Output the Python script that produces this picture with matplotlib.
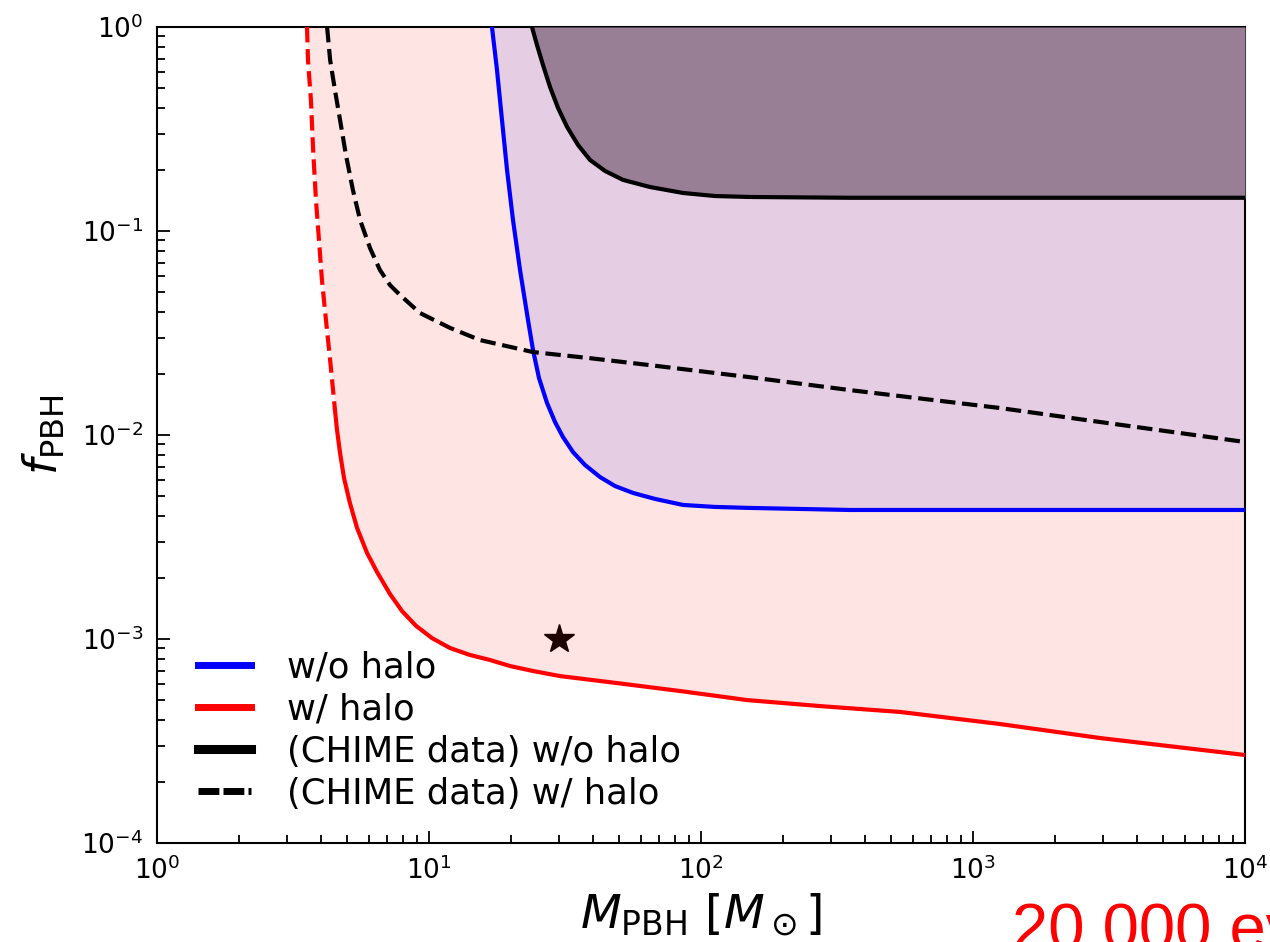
import numpy as np
import matplotlib
matplotlib.use("Agg")
import matplotlib.pyplot as plt
from matplotlib.lines import Line2D

# constraint curves, f_PBH vs M_PBH [M_sun]
# w/ halo, dashed part (upper branch)
m_halo_dash = [3.56, 3.59, 3.68, 3.75, 3.84, 3.94, 4.04, 4.18, 4.33, 4.51]
f_halo_dash = [1.0, 0.689, 0.439, 0.249, 0.142, 0.0903, 0.0575, 0.0366, 0.0233, 0.0133]
# w/ halo, solid part
m_halo = [4.51, 4.59, 4.71, 4.87, 5.12, 5.44, 5.92, 6.44, 7.19, 7.96, 8.96, 10.26,
          11.95, 14.15, 16.76, 19.86, 24.1, 30.3, 45.9, 83.7, 147.6, 273.8, 539,
          1257, 2931, 10000]
f_halo = [0.0133, 0.01058, 0.00816, 0.00615, 0.00464, 0.00350, 0.00264, 0.00213,
          0.00166, 0.00137, 0.00116, 0.00101, 0.000903, 0.000835, 0.000789, 0.000737,
          0.000697, 0.000658, 0.000615, 0.000556, 0.000502, 0.000469, 0.000439,
          0.000383, 0.000327, 0.000270]

# w/o halo
m_nohalo = [17.04, 17.78, 18.55, 19.36, 20.36, 21.61, 23.12, 24.12, 25.38, 27.16,
            29.06, 31.09, 33.83, 37.46, 42.54, 48.29, 56.23, 67.74, 85.9, 112.6,
            151.4, 353, 10000]
f_nohalo = [1.0, 0.616, 0.350, 0.199, 0.1132, 0.0644, 0.0366, 0.0261, 0.0190, 0.01435,
            0.01158, 0.00977, 0.00825, 0.00713, 0.00622, 0.00562, 0.00520, 0.00486,
            0.00454, 0.00444, 0.00439, 0.00429, 0.00429]

# CHIME data w/o halo
m_chime = [23.91, 24.95, 26.25, 27.86, 29.81, 32.17, 35.31, 39.08, 44.37, 51.67,
           64.94, 85.9, 112.6, 151.4, 353, 10000]
f_chime = [1.0, 0.816, 0.651, 0.508, 0.401, 0.324, 0.264, 0.223, 0.197, 0.178,
           0.1643, 0.1536, 0.1484, 0.1468, 0.1455, 0.1455]

# CHIME data w/ halo
m_chime_halo = [4.22, 4.33, 4.51, 4.71, 4.95, 5.25, 5.58, 6.07, 6.60, 7.19, 7.82,
                9.27, 11.95, 15.40, 24.12, 39.08, 64.94, 151.4, 353, 1257, 2931, 10000]
f_chime_halo = [1.0, 0.689, 0.491, 0.350, 0.236, 0.159, 0.1132, 0.0825, 0.0644,
                0.0543, 0.0486, 0.0396, 0.0335, 0.0292, 0.0255, 0.0238, 0.0220,
                0.0192, 0.0166, 0.01356, 0.01158, 0.00924]

star_m, star_f = 30, 1e-3

fig = plt.figure(figsize=(12.7, 9.42), dpi=100)
ax = fig.add_axes([157/1270, 1 - 843/942, 1088/1270, 816/942])

# shaded excluded regions
m_red_all = m_halo_dash + m_halo[1:]
f_red_all = f_halo_dash + f_halo[1:]
ax.fill_between(m_red_all, f_red_all, 1, color='#ffe4e4', lw=0, zorder=1)
ax.fill_between(m_nohalo, f_nohalo, 1, color='#e5cde3', lw=0, zorder=2)
ax.fill_between(m_chime, f_chime, 1, color='#987f96', lw=0, zorder=3)

ax.plot(m_halo_dash, f_halo_dash, color='red', lw=3, ls='--', zorder=4)
ax.plot(m_halo, f_halo, color='red', lw=3, zorder=4)
ax.plot(m_nohalo, f_nohalo, color='blue', lw=3, zorder=4)
ax.plot(m_chime, f_chime, color='black', lw=3, zorder=4)
ax.plot(m_chime_halo, f_chime_halo, color='black', lw=3, ls='--', zorder=4)
ax.plot(star_m, star_f, marker='*', ms=22, color='#1e0000', zorder=5)

ax.set_xscale('log')
ax.set_yscale('log')
ax.set_xlim(1, 1e4)
ax.set_ylim(1e-4, 1)

ax.tick_params(which='both', direction='in', top=False, right=False, labelsize=19, width=1.3)
ax.tick_params(which='major', length=9, pad=10)
ax.tick_params(which='minor', length=6)
for s in ax.spines.values():
    s.set_linewidth(1.5)

ax.set_xlabel(r'$M_{\rm PBH}\ [M_\odot]$', fontsize=34, labelpad=4)
ax.set_ylabel(r'$f_{\rm PBH}$', fontsize=33, labelpad=10)

handles = [
    Line2D([], [], color='blue', lw=5),
    Line2D([], [], color='red', lw=5),
    Line2D([], [], color='black', lw=6.5),
    Line2D([], [], color='black', lw=5, ls=(0, (3, 0.6))),
]
labels = ['w/o halo', 'w/ halo', '(CHIME data) w/o halo', '(CHIME data) w/ halo']
ax.legend(handles, labels, loc='lower left', bbox_to_anchor=(0.0184, 0.0135),
          frameon=False, fontsize=25.5, handlelength=1.5, handletextpad=1.0,
          labelspacing=0.23, borderaxespad=0.3, borderpad=0.3)

fig.text(1012/1270, -8/942, '20,000 ev', color='red', fontsize=47,
         family='Liberation Sans', ha='left', va='baseline')

fig.savefig('out.png', dpi=100)
